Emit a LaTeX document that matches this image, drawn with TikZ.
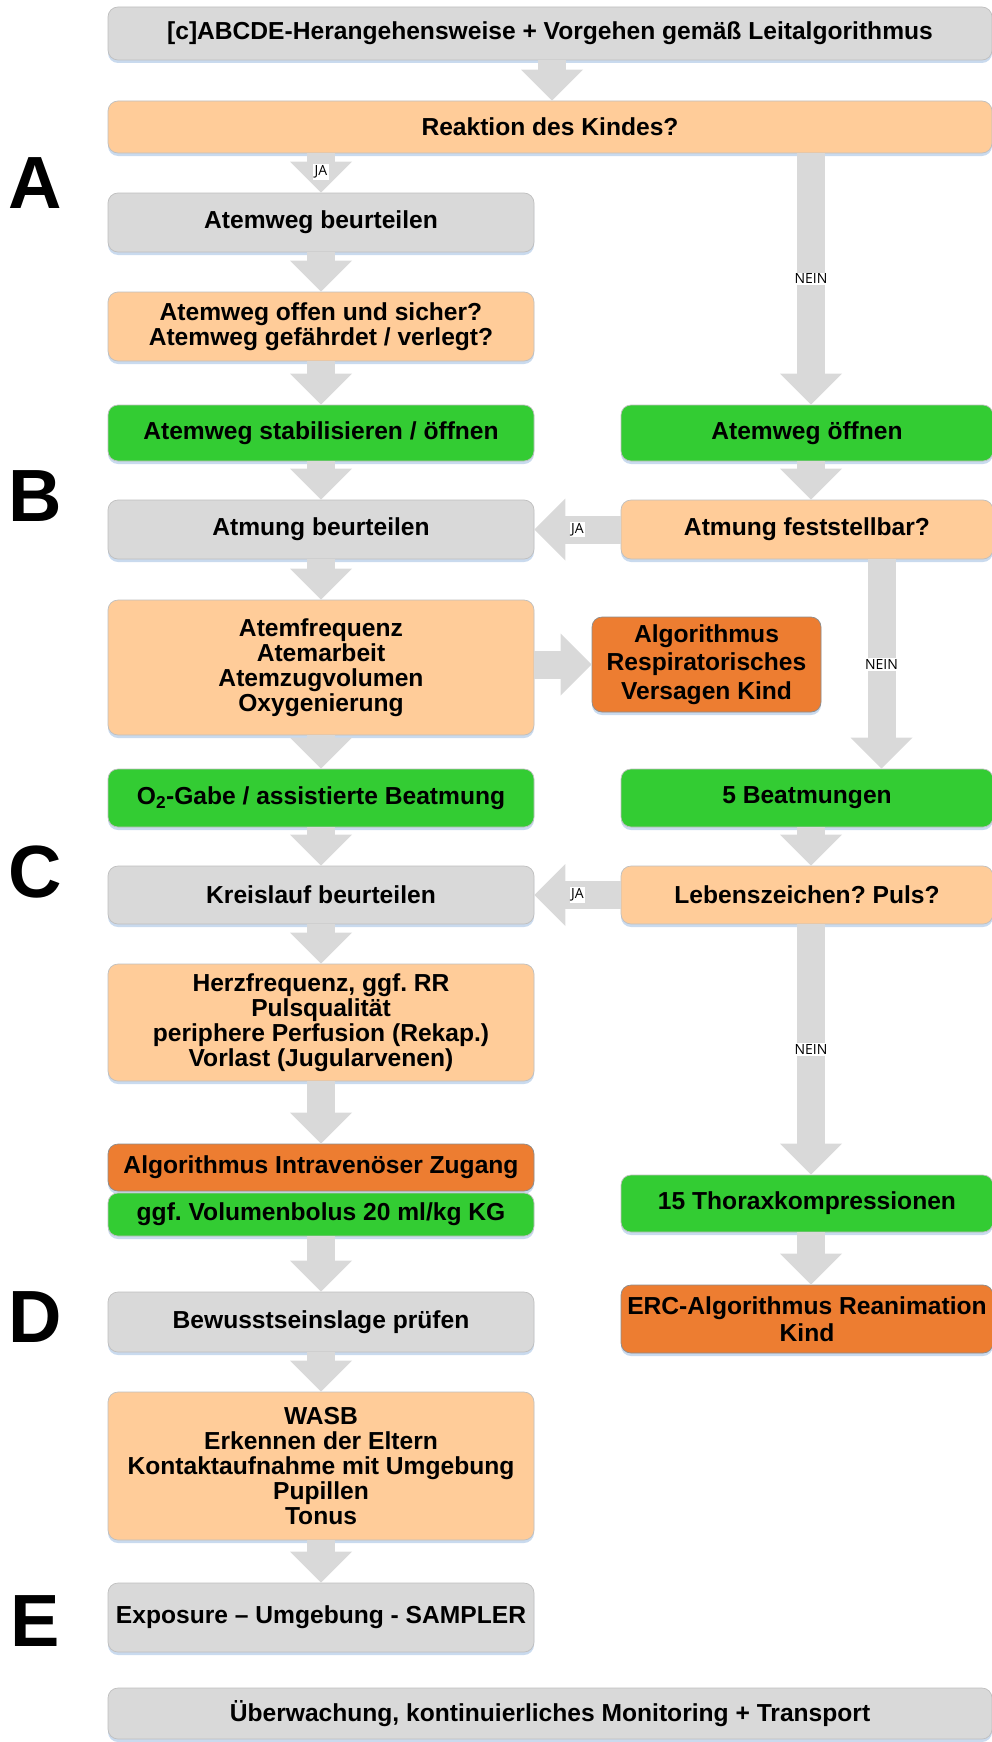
\documentclass[tikz,border=0pt]{standalone}
\usepackage{fontspec}
\setmainfont{Liberation Sans}
\newfontfamily\lblfont{Open Sans}
\usetikzlibrary{arrows.meta,shadows}
\frenchspacing

\definecolor{boxgray}{HTML}{D9D9D9}
\definecolor{boxpeach}{HTML}{FFCC99}
\definecolor{boxgreen}{HTML}{33CC33}
\definecolor{boxorange}{HTML}{ED7D31}
\definecolor{arrowgray}{HTML}{D9D9D9}
\definecolor{shadowblue}{HTML}{C9DAEE}
\definecolor{edgegray}{HTML}{BFBFBF}

\begin{document}
\begin{tikzpicture}[x=1pt,y=-1pt,
  box/.style={rectangle, rounded corners=10pt, draw=edgegray, line width=0.7pt,
    align=center, inner sep=0pt,
    font=\bfseries\fontsize{24.6}{25}\selectfont,
    drop shadow={shadow xshift=0pt, shadow yshift=-3pt, fill=shadowblue, opacity=1}},
  graybox/.style={box, fill=boxgray},
  peachbox/.style={box, fill=boxpeach},
  greenbox/.style={box, fill=boxgreen},
  orangebox/.style={box, fill=boxorange, draw=black!45},
  wide/.style={minimum width=884pt},
  leftcol/.style={minimum width=426pt},
  rightcol/.style={minimum width=372pt},
  flow/.style={draw=arrowgray, line width=28pt,
    -{Triangle[width=62pt,length=31pt,line width=0pt]}},
  lbl/.style={fill=white, inner sep=1.5pt, font=\lblfont\fontsize{14}{16}\selectfont},
  phase/.style={font=\bfseries\fontsize{74}{74}\selectfont, anchor=base, inner sep=0pt}
]
\useasboundingbox (0,0) rectangle (992,1742);

% column axes for the connectors
\coordinate (xtop) at (552,0);
\coordinate (xL) at (321,0);
\coordinate (xR) at (811,0);
\coordinate (xRR) at (881.5,0);

% phase letters
\node[phase] (pA) at (35,208) {A};
\node[phase] (pB) at (35,521) {B};
\node[phase] (pC) at (35,897) {C};
\node[phase] (pD) at (35,1342) {D};
\node[phase] (pE) at (35,1646) {E};

% boxes
\node[graybox, wide, minimum height=53pt] (top) at (550,33.5)
  {[c]ABCDE-Herangehensweise + Vorgehen gemäß Leitalgorithmus};
\node[peachbox, wide, minimum height=52pt] (reak) at (550,127) {Reaktion des Kindes?};

\node[graybox, leftcol, minimum height=59pt] (awb) at (321,222.5) {Atemweg beurteilen};
\node[peachbox, leftcol, minimum height=69pt] (awo) at (321,326.5)
  {Atemweg offen und sicher?\\Atemweg gefährdet / verlegt?};
\node[greenbox, leftcol, minimum height=56pt] (aws) at (321,433) {Atemweg stabilisieren / öffnen};
\node[greenbox, rightcol, minimum height=56pt] (awoe) at (807,433) {Atemweg öffnen};

\node[graybox, leftcol, minimum height=59pt] (atb) at (321,529.5) {Atmung beurteilen};
\node[peachbox, rightcol, minimum height=59pt] (atf) at (807,529.5) {Atmung feststellbar?};

\node[peachbox, leftcol, minimum height=135pt] (atfr) at (321,667.5)
  {Atemfrequenz\\Atemarbeit\\Atemzugvolumen\\Oxygenierung};
\node[orangebox, minimum width=229pt, minimum height=95pt,
  font=\bfseries\fontsize{24.6}{28.5}\selectfont] (alres) at (706.5,664.5)
  {Algorithmus\\Respiratorisches\\Versagen Kind};

\node[greenbox, leftcol, minimum height=58pt] (o2) at (321,798)
  {O\textsubscript{2}-Gabe / assistierte Beatmung};
\node[greenbox, rightcol, minimum height=58pt] (b5) at (807,798) {5 Beatmungen};

\node[graybox, leftcol, minimum height=58pt] (kb) at (321,895) {Kreislauf beurteilen};
\node[peachbox, rightcol, minimum height=58pt] (lz) at (807,895) {Lebenszeichen? Puls?};

\node[peachbox, leftcol, minimum height=117pt] (hf) at (321,1022.5)
  {Herzfrequenz, ggf. RR\\Pulsqualität\\periphere Perfusion (Rekap.)\\Vorlast (Jugularvenen)};

\node[orangebox, leftcol, minimum height=47pt] (aiz) at (321,1167.5) {Algorithmus Intravenöser Zugang};
\node[greenbox, leftcol, minimum height=43pt] (vb) at (321,1214.5) {ggf. Volumenbolus 20 ml/kg KG};
\node[greenbox, rightcol, minimum height=57pt] (th) at (807,1203.5) {15 Thoraxkompressionen};

\node[orangebox, rightcol, minimum height=68pt,
  font=\bfseries\fontsize{24.6}{26.5}\selectfont] (erc) at (807,1319)
  {ERC-Algorithmus Reanimation\\Kind};
\node[graybox, leftcol, minimum height=60pt] (bew) at (321,1322) {Bewusstseinslage prüfen};

\node[peachbox, leftcol, minimum height=148pt] (wasb) at (321,1466)
  {WASB\\Erkennen der Eltern\\Kontaktaufnahme mit Umgebung\\Pupillen\\Tonus};

\node[graybox, leftcol, minimum height=69pt] (exp) at (321,1617.5) {Exposure – Umgebung - SAMPLER};
\node[graybox, wide, minimum height=51pt] (ueb) at (550,1713.5)
  {Überwachung, kontinuierliches Monitoring + Transport};

% connectors, left column
\draw[flow] (top.south -| xtop) -- (reak.north -| xtop);
\draw[flow] (reak.south -| xL) -- node[lbl, pos=.475] {JA} (awb.north -| xL);
\draw[flow] (awb.south -| xL) -- (awo.north -| xL);
\draw[flow] (awo.south -| xL) -- (aws.north -| xL);
\draw[flow] (aws.south -| xL) -- (atb.north -| xL);
\draw[flow] (atb.south -| xL) -- (atfr.north -| xL);
\draw[flow] (atfr.south -| xL) -- (o2.north -| xL);
\draw[flow] (o2.south -| xL) -- (kb.north -| xL);
\draw[flow] (kb.south -| xL) -- (hf.north -| xL);
\draw[flow] (hf.south -| xL) -- (aiz.north -| xL);
\draw[flow] (vb.south -| xL) -- (bew.north -| xL);
\draw[flow] (bew.south -| xL) -- (wasb.north -| xL);
\draw[flow] (wasb.south -| xL) -- (exp.north -| xL);

% connectors, right column
\draw[flow] (reak.south -| xR) -- node[lbl, midway] {NEIN} (awoe.north -| xR);
\draw[flow] (awoe.south -| xR) -- (atf.north -| xR);
\draw[flow] (atf.south -| xRR) -- node[lbl, midway] {NEIN} (b5.north -| xRR);
\draw[flow] (b5.south -| xR) -- (lz.north -| xR);
\draw[flow] (lz.south -| xR) -- node[lbl, midway] {NEIN} (th.north -| xR);
\draw[flow] (th.south -| xR) -- (erc.north -| xR);

% connectors across
\draw[flow] (atf.west) -- node[lbl, midway] {JA} (atb.east);
\draw[flow] (lz.west) -- node[lbl, midway] {JA} (kb.east);
\draw[flow] (atfr.east |- alres.west) -- (alres.west);
\end{tikzpicture}
\end{document}
